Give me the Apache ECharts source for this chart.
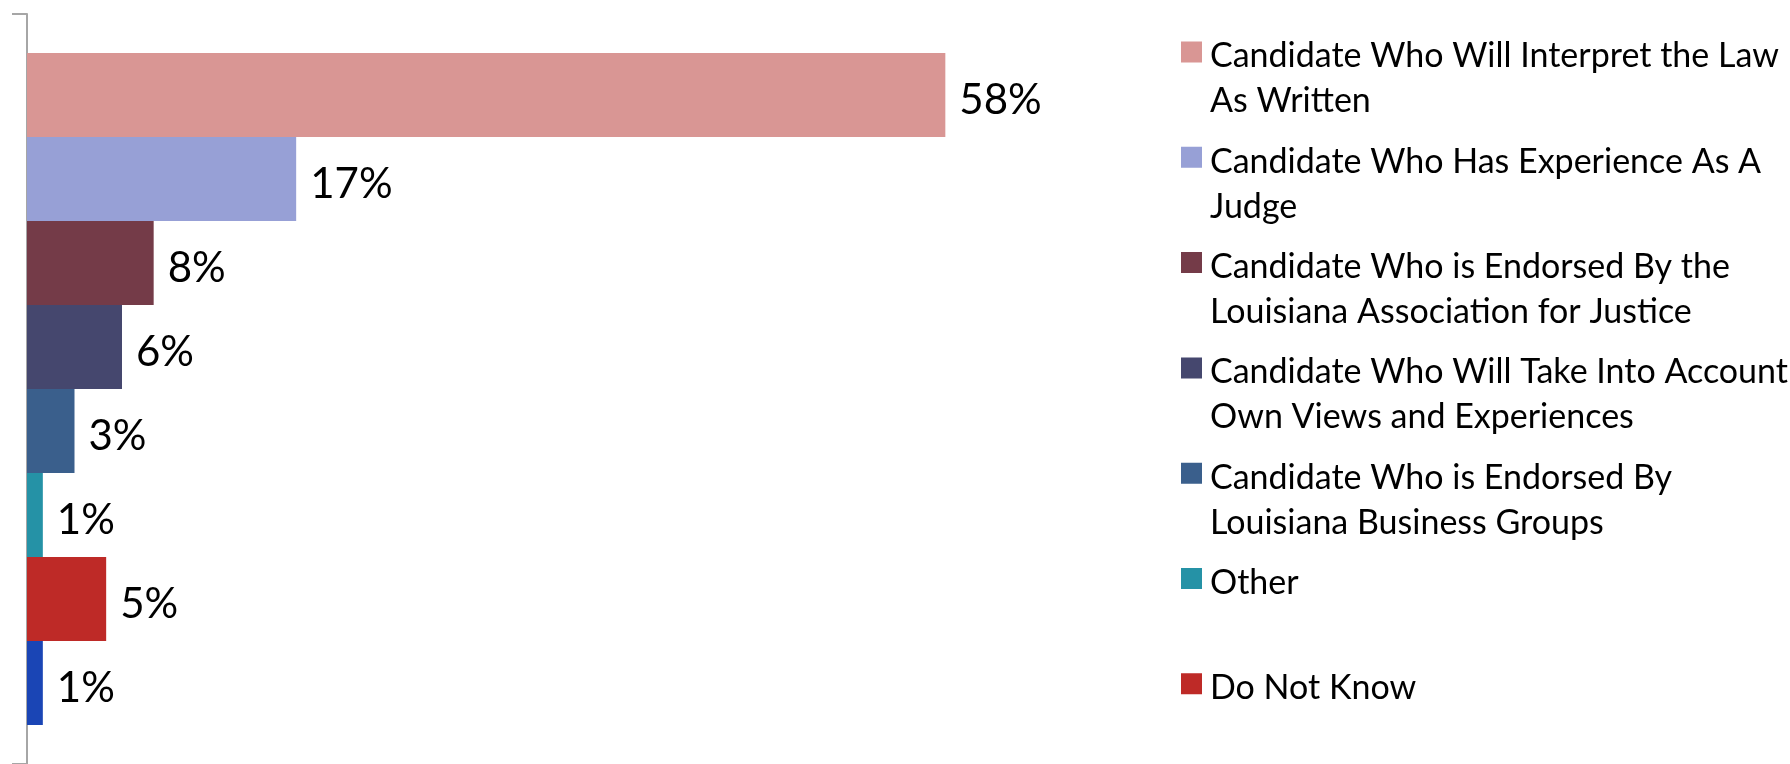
<!DOCTYPE html>
<html>
<head>
<meta charset="utf-8">
<script src="https://cdn.jsdelivr.net/npm/echarts@6/dist/echarts.min.js"></script>
<style>
  html, body { margin: 0; padding: 0; background: #fff; }
  #chart { width: 1790px; height: 764px; }
</style>
</head>
<body>
<div id="chart"></div>
<script>
var names = [
  'Candidate Who Will Interpret the Law As Written',
  'Candidate Who Has Experience As A Judge',
  'Candidate Who is Endorsed By the Louisiana Association for Justice',
  'Candidate Who Will Take Into Account Own Views and Experiences',
  'Candidate Who is Endorsed By Louisiana Business Groups',
  'Other',
  'Do Not Know',
  'Refused'
];
// how the legend breaks each name
var legendText = [
  'Candidate Who Will Interpret the Law\nAs Written',
  'Candidate Who Has Experience As A\nJudge',
  'Candidate Who is Endorsed By the\nLouisiana Association for Justice',
  'Candidate Who Will Take Into Account\nOwn Views and Experiences',
  'Candidate Who is Endorsed By\nLouisiana Business Groups',
  'Other\n ',
  'Do Not Know\n ',
  'Refused\n '
];
var values = [58, 17, 8, 6, 3, 1, 5, 1];
var colors = ['#D99694', '#97A0D6', '#743B48', '#45476E', '#3A5F8C', '#2592A6', '#BE2A27', '#1A45B5'];

var font = 'Lato, "Open Sans", sans-serif';

var chart = echarts.init(document.getElementById('chart'));

var series = [];
for (var i = 0; i < values.length; i++) {
  series.push({
    name: names[i],
    type: 'bar',
    data: [values[i]],
    barWidth: 84,
    barGap: '0%',
    itemStyle: { color: colors[i] },
    label: {
      show: true,
      position: 'right',
      distance: 14,
      offset: [0, 5],
      formatter: '{c}%',
      color: '#000',
      fontSize: 42,
      fontFamily: font
    }
  });
}

chart.setOption({
  animation: false,
  grid: { left: 27, top: 14, width: 950, height: 755 },
  xAxis: { type: 'value', min: 0, max: 60, show: false },
  yAxis: {
    type: 'category',
    data: [''],
    inverse: true,
    axisLine: { lineStyle: { color: '#A6A6A6', width: 2 } },
    axisTick: { show: true, interval: 0, length: 15, lineStyle: { color: '#A6A6A6', width: 2 } },
    axisLabel: { show: false }
  },
  legend: {
    data: names.slice(0, 7),
    orient: 'vertical',
    left: 1181,
    top: 34,
    padding: 0,
    itemWidth: 21,
    itemHeight: 90,
    itemGap: 15.3,
    // square on the first text line; the two specks only set the box
    icon: 'path://M0,7.5h21v21h-21zM0,0h0.01v0.01h-0.01zM20.99,89.99h0.01v0.01h-0.01z',
    formatter: function (n) { return legendText[names.indexOf(n)]; },
    textStyle: { fontSize: 34, lineHeight: 45, color: '#000', fontFamily: font, padding: [0, 0, 0, 3] },
    selectedMode: false
  },
  series: series
});
</script>
</body>
</html>
